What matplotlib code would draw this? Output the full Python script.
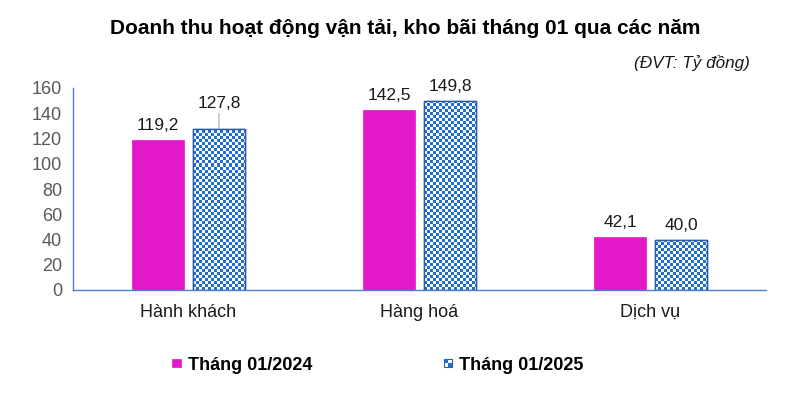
import numpy as np
import matplotlib
matplotlib.use("Agg")
import matplotlib.pyplot as plt
from matplotlib.patches import Patch, Rectangle
from matplotlib.legend_handler import HandlerBase
from matplotlib.colors import ListedColormap

plt.rcParams['font.family'] = ['Liberation Sans', 'DejaVu Sans']

categories = ["Hành khách", "Hàng hoá", "Dịch vụ"]
series_names = ["Tháng 01/2024", "Tháng 01/2025"]
values_2024 = [119.2, 142.5, 42.1]
values_2025 = [127.8, 149.8, 40.0]
yticks = [0, 20, 40, 60, 80, 100, 120, 140, 160]
title = "Doanh thu hoạt động vận tải, kho bãi tháng 01 qua các năm"
unit_text = "(ĐVT: Tỷ đồng)"

MAGENTA = "#E218C9"
BLUE = "#1F6FD2"
BLUE_EDGE = "#2A5AA8"
AXIS = "#4F7FD0"

W, H = 799, 401
fig = plt.figure(figsize=(W / 100, H / 100), dpi=100)
ax_l, ax_r, ax_b, ax_t = 73, 766, 290, 88
ax = fig.add_axes([ax_l / W, 1 - ax_b / H, (ax_r - ax_l) / W, (ax_b - ax_t) / H])

x = np.arange(len(categories))
bw = 0.225
off = 0.132
ax.set_xlim(-0.5, len(categories) - 0.5)
ax.set_ylim(0, 160)

bars1 = ax.bar(x - off, values_2024, width=bw, color=MAGENTA, edgecolor=MAGENTA, linewidth=0.5, zorder=2)
bars2 = ax.bar(x + off, values_2025, width=bw, color="white", edgecolor=BLUE_EDGE, linewidth=1.0, zorder=2)

# checkerboard texture clipped to the 2025 bars (cell = 3 px)
cell = 3
ncols = int(np.ceil((ax_r - ax_l) / cell))
nrows = int(np.ceil((ax_b - ax_t) / cell))
ii, jj = np.indices((nrows, ncols))
checker = ((ii + jj) % 2).astype(float)
cmap = ListedColormap(["white", BLUE])
ext_x1 = -0.5 + ncols * cell / (ax_r - ax_l) * 3
ext_y1 = nrows * cell / (ax_b - ax_t) * 160
for b in bars2:
    im = ax.imshow(checker, cmap=cmap, interpolation="nearest", origin="lower",
                   extent=(-0.5, ext_x1, 0, ext_y1), aspect="auto", zorder=2.5)
    im.set_clip_path(b)
    r = Rectangle(b.get_xy(), b.get_width(), b.get_height(), fill=False,
                  edgecolor=BLUE_EDGE, linewidth=1.0, zorder=3)
    ax.add_patch(r)
ax.set_xlim(-0.5, len(categories) - 0.5)
ax.set_ylim(0, 160)

def fmt(v):
    return f"{v:.1f}".replace(".", ",")

LBL = 12.5
for xi, v in zip(x - off, values_2024):
    ax.annotate(fmt(v), (xi, v), xytext=(0, 5), textcoords="offset points",
                ha="center", va="bottom", fontsize=LBL, color="#1a1a1a")
for i, (xi, v) in enumerate(zip(x + off, values_2025)):
    if i == 0:
        ax.annotate(fmt(v), (xi, v), xytext=(0, 13), textcoords="offset points",
                    ha="center", va="bottom", fontsize=LBL, color="#1a1a1a",
                    arrowprops=dict(arrowstyle="-", color="#A6A6A6", lw=0.8,
                                    shrinkA=0, shrinkB=0))
    else:
        ax.annotate(fmt(v), (xi, v), xytext=(0, 5), textcoords="offset points",
                    ha="center", va="bottom", fontsize=LBL, color="#1a1a1a")

ax.set_yticks(yticks)
ax.set_yticklabels([str(t) for t in yticks], fontsize=13, color="#595959")
ax.set_xticks(x)
ax.set_xticklabels(categories, fontsize=13, color="#1a1a1a")
ax.tick_params(axis="both", length=0)
ax.tick_params(axis="y", pad=8)
ax.tick_params(axis="x", pad=10)
for s in ["top", "right"]:
    ax.spines[s].set_visible(False)
for s in ["left", "bottom"]:
    ax.spines[s].set_color(AXIS)
    ax.spines[s].set_linewidth(1.0)

fig.text(405 / W, 1 - 29 / H, title, ha="center", va="center", fontsize=15, fontweight="bold")
fig.text(750 / W, 1 - 63 / H, unit_text, ha="right", va="center", fontsize=12.3, style="italic", color="#1a1a1a")


class CheckerHandler(HandlerBase):
    def create_artists(self, legend, orig_handle, xdescent, ydescent, width, height, fontsize, trans):
        s = 6.0
        x0 = -xdescent + (width - s) / 2
        y0 = -ydescent + (height - s) / 2
        arts = [Rectangle((x0, y0), s, s, facecolor="white", edgecolor=BLUE_EDGE, lw=0.8, transform=trans)]
        c = s / 2
        arts.append(Rectangle((x0, y0 + c), c, c, facecolor=BLUE, edgecolor="none", transform=trans))
        arts.append(Rectangle((x0 + c, y0), c, c, facecolor=BLUE, edgecolor="none", transform=trans))
        return arts


class SquareHandler(HandlerBase):
    def create_artists(self, legend, orig_handle, xdescent, ydescent, width, height, fontsize, trans):
        s = 6.0
        x0 = -xdescent + (width - s) / 2
        y0 = -ydescent + (height - s) / 2
        return [Rectangle((x0, y0), s, s, facecolor=MAGENTA, edgecolor=MAGENTA, lw=0.5, transform=trans)]


h1 = Patch(facecolor=MAGENTA, label=series_names[0])
h2 = Patch(facecolor="white", label=series_names[1])
leg = fig.legend(handles=[h1, h2], labels=series_names, loc="center",
                 bbox_to_anchor=(378 / W, 1 - 365 / H), ncol=2, frameon=False,
                 prop={"weight": "bold", "size": 13}, handlelength=0.45, handletextpad=0.4,
                 columnspacing=7.3, handler_map={h1: SquareHandler(), h2: CheckerHandler()})

fig.savefig("out.png", dpi=100, facecolor="white")
